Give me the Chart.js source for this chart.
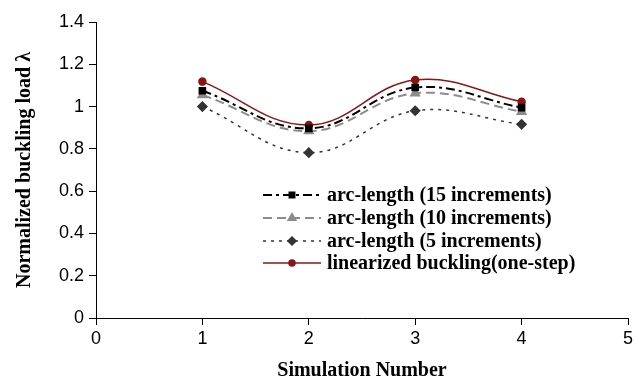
<!DOCTYPE html>
<html>
<head>
<meta charset="utf-8">
<script src="https://cdn.jsdelivr.net/npm/chart.js@4"></script>
<style>
  html, body { margin: 0; padding: 0; background: #fff; }
  #wrap { width: 644px; height: 388px; position: relative; }
</style>
</head>
<body>
<div id="wrap"><canvas id="chart" width="644" height="388"></canvas></div>
<script>
// datos
const simulaciones = [1, 2, 3, 4];
const arc15 = [1.075, 0.897, 1.09, 0.995];
const arc10 = [1.055, 0.884, 1.063, 0.976];
const arc5 = [1.0, 0.782, 0.98, 0.916];
const linealizado = [1.118, 0.913, 1.126, 1.023];
const etiquetas = [
  'arc-length (15 increments)',
  'arc-length (10 increments)',
  'arc-length (5 increments)',
  'linearized buckling(one-step)'
];
const ticksY = [0, 0.2, 0.4, 0.6, 0.8, 1, 1.2, 1.4];
const ticksX = [0, 1, 2, 3, 4, 5];

function puntos(vals) {
  return vals.map((v, i) => ({ x: simulaciones[i], y: v }));
}

const serif = "'Liberation Serif', 'Times New Roman', serif";
const sans = "'Liberation Sans', Arial, sans-serif";

// leyenda dibujada dentro del area del grafico
const leyendaPlugin = {
  id: 'leyenda',
  afterDraw(chart) {
    const ctx = chart.ctx;
    const x0 = 263, x1 = 321, tx = 327;
    const filas = [195, 218, 241, 263];
    chart.data.datasets.forEach((ds, i) => {
      const y = filas[i];
      ctx.save();
      ctx.strokeStyle = ds.borderColor;
      ctx.lineWidth = ds.borderWidth;
      ctx.setLineDash(ds.borderDash || []);
      ctx.beginPath();
      ctx.moveTo(x0, y);
      ctx.lineTo(x1, y);
      ctx.stroke();
      ctx.setLineDash([]);
      ctx.fillStyle = ds.pointBackgroundColor;
      ctx.strokeStyle = ds.pointBorderColor;
      Chart.helpers.drawPoint(ctx, {
        pointStyle: ds.pointStyle,
        radius: ds.pointRadius - 0.5,
        borderWidth: 1,
        rotation: 0
      }, (x0 + x1) / 2, y);
      ctx.fillStyle = '#000';
      ctx.font = 'bold 20px ' + serif;
      ctx.textBaseline = 'middle';
      ctx.textAlign = 'left';
      ctx.fillText(etiquetas[i], tx, y + 1);
      ctx.restore();
    });
  }
};

new Chart(document.getElementById('chart'), {
  type: 'line',
  data: {
    datasets: [
      {
        label: etiquetas[0],
        data: puntos(arc15),
        borderColor: '#000000',
        borderWidth: 2,
        borderDash: [9, 4, 3, 4],
        pointStyle: 'rect',
        pointRadius: 4,
        pointBackgroundColor: '#000000',
        pointBorderColor: '#000000',
        tension: 0.4
      },
      {
        label: etiquetas[1],
        data: puntos(arc10),
        borderColor: '#8c8c8c',
        borderWidth: 2,
        borderDash: [9, 5],
        pointStyle: 'triangle',
        pointRadius: 4.5,
        pointBackgroundColor: '#8c8c8c',
        pointBorderColor: '#8c8c8c',
        tension: 0.4
      },
      {
        label: etiquetas[2],
        data: puntos(arc5),
        borderColor: '#333333',
        borderWidth: 1.5,
        borderDash: [3, 5],
        pointStyle: 'rectRot',
        pointRadius: 4.5,
        pointBackgroundColor: '#333333',
        pointBorderColor: '#333333',
        tension: 0.4
      },
      {
        label: etiquetas[3],
        data: puntos(linealizado),
        borderColor: '#8b1515',
        borderWidth: 1.5,
        pointStyle: 'circle',
        pointRadius: 3.5,
        pointBackgroundColor: '#8b1515',
        pointBorderColor: '#8b1515',
        tension: 0.4
      }
    ]
  },
  options: {
    responsive: false,
    animation: false,
    layout: { padding: { top: 22, right: 16, left: 0, bottom: 0 } },
    plugins: {
      legend: { display: false },
      tooltip: { enabled: false }
    },
    scales: {
      x: {
        type: 'linear',
        min: 0,
        max: 5,
        afterBuildTicks: s => { s.ticks = ticksX.map(v => ({ value: v })); },
        afterFit: s => { s.height = 70; },
        grid: { drawOnChartArea: false, drawTicks: true, tickLength: 7, color: '#000' },
        border: { display: true, color: '#000', width: 1 },
        ticks: { color: '#000', font: { family: sans, size: 18 }, padding: 3, maxRotation: 0 },
        title: {
          display: true,
          text: 'Simulation Number',
          color: '#000',
          font: { family: serif, size: 20, weight: 'bold' },
          padding: { top: 4, bottom: 5 }
        }
      },
      y: {
        type: 'linear',
        min: 0,
        max: 1.4,
        afterBuildTicks: s => { s.ticks = ticksY.map(v => ({ value: v })); },
        afterFit: s => { s.width = 96; },
        grid: { drawOnChartArea: false, drawTicks: true, tickLength: 7, color: '#000' },
        border: { display: true, color: '#000', width: 1 },
        ticks: {
          color: '#000',
          font: { family: sans, size: 18 },
          padding: 5,
          callback: v => String(+v.toFixed(1))
        },
        title: {
          display: true,
          text: 'Normalized buckling load λ',
          color: '#000',
          font: { family: serif, size: 20, weight: 'bold' },
          padding: { top: 13, bottom: 0 }
        }
      }
    }
  },
  plugins: [leyendaPlugin]
});
</script>
</body>
</html>
